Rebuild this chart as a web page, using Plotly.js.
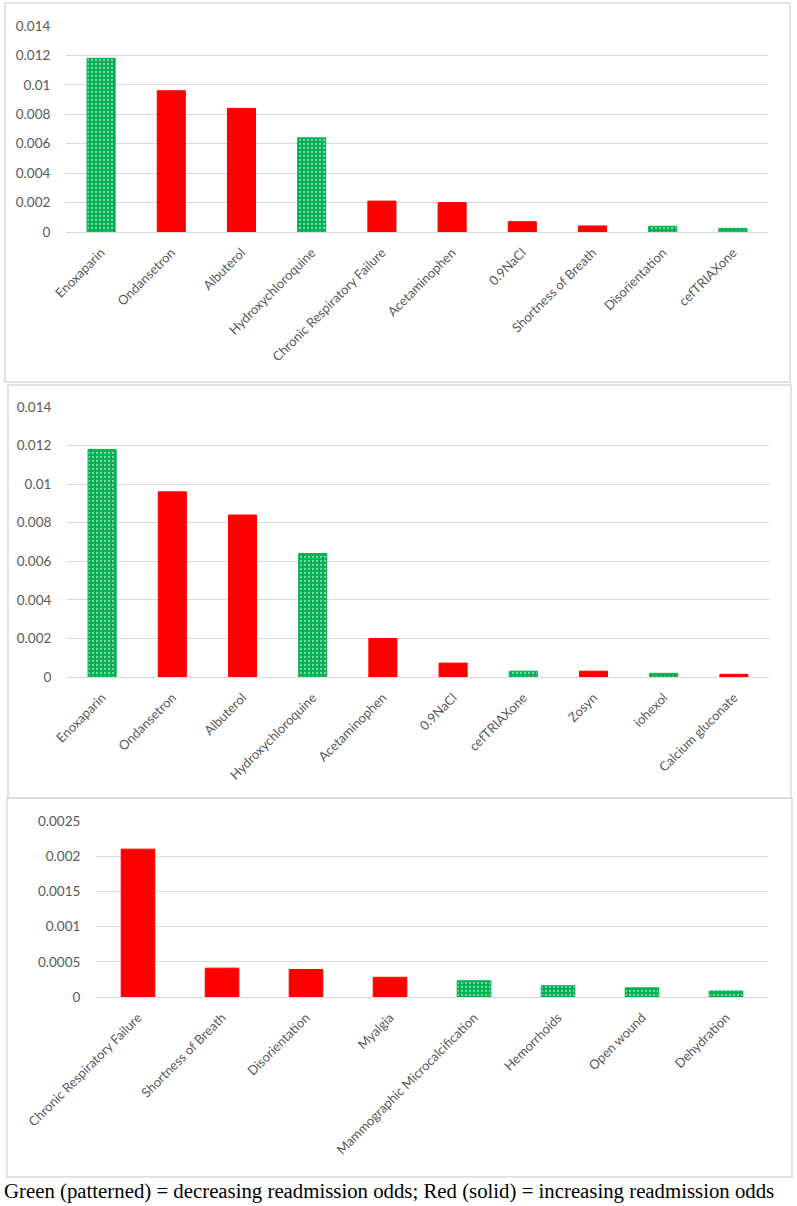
<!DOCTYPE html>
<html>
<head>
<meta charset="utf-8">
<script src="https://cdn.plot.ly/plotly-3.0.1.min.js"></script>
<style>html,body{margin:0;padding:0;background:#fff;}#chart{width:797px;height:1206px;}</style>
</head>
<body>
<div id="chart"></div>
<script>
// ---- Data ----
// Panel 1
const categories1 = ["Enoxaparin","Ondansetron","Albuterol","Hydroxychloroquine","Chronic Respiratory Failure","Acetaminophen","0.9NaCl","Shortness of Breath","Disorientation","cefTRIAXone"];
const values1 = [0.0118,0.0096,0.0084,0.0064,0.0021,0.0020,0.0007,0.00041,0.00039,0.00025];
const direction1 = ["dec","inc","inc","dec","inc","inc","inc","inc","dec","dec"];
// Panel 2
const categories2 = ["Enoxaparin","Ondansetron","Albuterol","Hydroxychloroquine","Acetaminophen","0.9NaCl","cefTRIAXone","Zosyn","iohexol","Calcium gluconate"];
const values2 = [0.0118,0.0096,0.0084,0.0064,0.0020,0.00072,0.0003,0.0003,0.00019,0.00014];
const direction2 = ["dec","inc","inc","dec","inc","inc","dec","inc","dec","inc"];
// Panel 3
const categories3 = ["Chronic Respiratory Failure","Shortness of Breath","Disorientation","Myalgia","Mammographic Microcalcification","Hemorrhoids","Open wound","Dehydration"];
const values3 = [0.0021,0.00041,0.00039,0.00028,0.00023,0.00016,0.00013,0.000085];
const direction3 = ["inc","inc","inc","inc","dec","dec","dec","dec"];
const captionText = "Green (patterned) = decreasing readmission odds; Red (solid) = increasing readmission odds";

// ---- Styling ----
const RED = "#FF0000", GREEN = "#00B050", GRID = "#D9D9D9", LABEL = "#595959";
const W = 797, H = 1206;
const px = v => v / W, py = v => 1 - v / H;

function barTrace(cats, vals, dirs, xa, ya) {
  const isDec = d => d === "dec";
  return {
    type: "bar", x: cats, y: vals, xaxis: xa, yaxis: ya,
    hoverinfo: "x+y",
    marker: {
      color: dirs.map(d => isDec(d) ? GREEN : RED),
      line: { color: dirs.map(d => isDec(d) ? GREEN : RED), width: 1 },
      pattern: {
        shape: dirs.map(d => isDec(d) ? "." : ""),
        fillmode: "overlay",
        bgcolor: dirs.map(d => isDec(d) ? GREEN : RED),
        fgcolor: dirs.map(d => "#FFFFFF"),
        size: 4,
        solidity: 0.25
      }
    }
  };
}

const tickFontX = { family: "Lato, 'Open Sans', sans-serif", size: 13, color: LABEL };
const tickFontY = { family: "Lato, 'Open Sans', sans-serif", size: 13.5, color: LABEL };

function xAxis(domain, anchor) {
  return { domain, anchor, type: "category", tickangle: -45, tickfont: tickFontX,
           showgrid: false, showline: false, ticks: "outside", ticklen: 7,
           tickcolor: "rgba(0,0,0,0)", zeroline: false, fixedrange: true };
}
function yAxis(domain, anchor, range, dtick) {
  return { domain, anchor, range, dtick, tick0: 0, tickformat: "~g", tickfont: tickFontY,
           showgrid: true, gridcolor: GRID, gridwidth: 1, zeroline: true, zerolinecolor: GRID,
           zerolinewidth: 1, showline: false, ticks: "outside", ticklen: 12,
           tickcolor: "rgba(0,0,0,0)", fixedrange: true };
}

const data = [
  barTrace(categories1, values1, direction1, "x", "y"),
  barTrace(categories2, values2, direction2, "x2", "y2"),
  barTrace(categories3, values3, direction3, "x3", "y3")
];

function box(x0, y0, x1, y1) {
  return { type: "rect", xref: "paper", yref: "paper", x0: px(x0), x1: px(x1), y0: py(y1), y1: py(y0),
           line: { color: GRID, width: 1.5 }, fillcolor: "rgba(0,0,0,0)", layer: "below" };
}

const layout = {
  width: W, height: H,
  margin: { l: 0, r: 0, t: 0, b: 0 },
  paper_bgcolor: "#FFFFFF", plot_bgcolor: "rgba(0,0,0,0)",
  showlegend: false, bargap: 0.6,
  xaxis: xAxis([px(66), px(768)], "y"),
  yaxis: yAxis([py(232), py(26)], "x", [0, 0.014], 0.002),
  xaxis2: xAxis([px(67), px(769)], "y2"),
  yaxis2: yAxis([py(677), py(407)], "x2", [0, 0.014], 0.002),
  xaxis3: xAxis([px(96), px(768)], "y3"),
  yaxis3: yAxis([py(997), py(821)], "x3", [0, 0.0025], 0.0005),
  shapes: [ box(5, 3, 790, 382), box(8, 385, 791, 798), box(7, 798, 792, 1177) ],
  annotations: [{
    text: captionText, xref: "paper", yref: "paper", x: px(2), y: py(1191),
    xanchor: "left", yanchor: "middle", showarrow: false,
    font: { family: "'Liberation Serif', 'Times New Roman', serif", size: 20.8, color: "#000000" }
  }]
};

Plotly.newPlot("chart", data, layout, { displayModeBar: false, staticPlot: false });
</script>
</body>
</html>
